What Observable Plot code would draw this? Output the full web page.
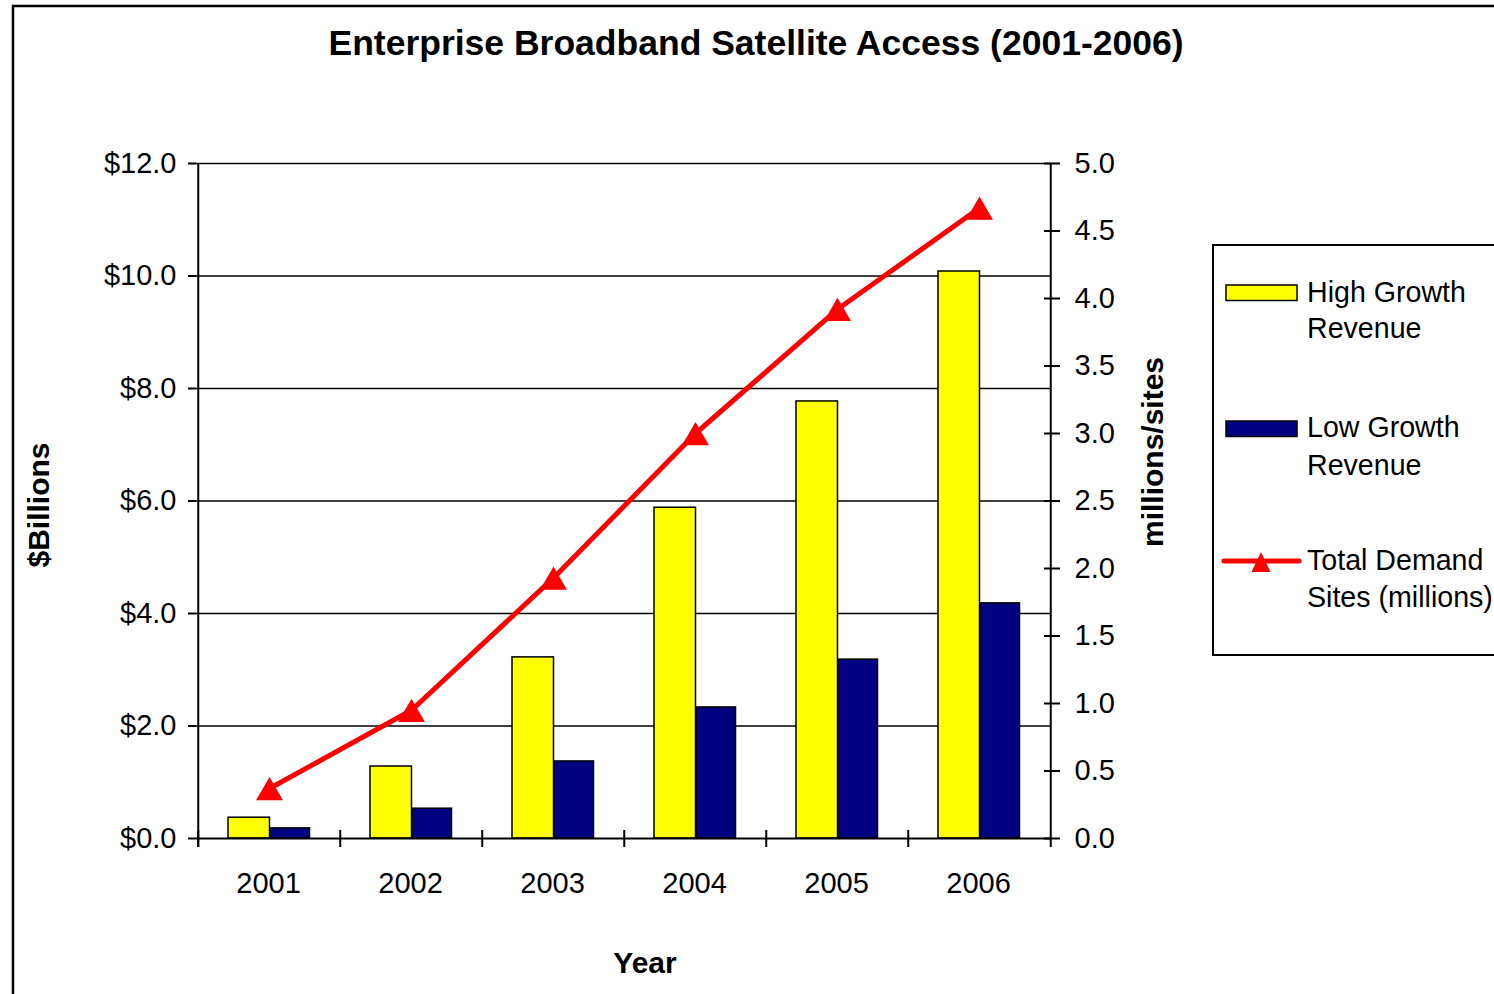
<!DOCTYPE html>
<html><head><meta charset="utf-8">
<script src="https://cdn.jsdelivr.net/npm/d3@7"></script>
<script src="https://cdn.jsdelivr.net/npm/@observablehq/plot@0.6"></script>
<style>
html,body{margin:0;padding:0;background:#fff;}
body{width:1494px;height:994px;overflow:hidden;position:relative;font-family:"Liberation Sans",Arial,sans-serif;}
#chart{position:absolute;left:0;top:0;}
#overlay{position:absolute;left:0;top:0;pointer-events:none;}
</style>
</head><body>
<div id="chart"></div>
<svg id="overlay" width="1494" height="994" font-family="'Liberation Sans', Arial, sans-serif">
  <rect x="13" y="6" width="1600" height="1100" fill="none" stroke="#000" stroke-width="2.5"/>
  <text x="756" y="55" text-anchor="middle" font-weight="bold" font-size="35.5">Enterprise Broadband Satellite Access (2001-2006)</text>
  <text transform="translate(38,505) rotate(-90)" dy="0.36em" text-anchor="middle" font-weight="bold" font-size="30">$Billions</text>
  <text transform="translate(1152,452) rotate(-90)" dy="0.36em" text-anchor="middle" font-weight="bold" font-size="30">millions/sites</text>
  <text x="645" y="973" text-anchor="middle" font-weight="bold" font-size="30">Year</text>
  <g id="legend"></g>
</svg>
<script>
const years = ["2001", "2002", "2003", "2004", "2005", "2006"];
const highGrowth = [0.37, 1.28, 3.22, 5.88, 7.77, 10.08];
const lowGrowth = [0.18, 0.53, 1.37, 2.33, 3.18, 4.18];
const demandSites = [0.37, 0.95, 1.93, 3.0, 3.92, 4.67];
const leftTicks = [0, 2, 4, 6, 8, 10, 12];
const rightTicks = [0, 0.5, 1.0, 1.5, 2.0, 2.5, 3.0, 3.5, 4.0, 4.5, 5.0];
const seriesNames = ["High Growth|Revenue", "Low Growth|Revenue", "Total Demand|Sites (millions)"];

const ratio = 12 / 5;
const data = years.map((year, i) => ({year, high: highGrowth[i], low: lowGrowth[i], sites: demandSites[i]}));
const W = 1494, H = 994, mL = 196, mR = 443, mT = 163, mB = 156;
const bw = (W - mL - mR) / years.length;

const chart = Plot.plot({
  width: W, height: H,
  marginLeft: mL, marginRight: mR, marginTop: mT, marginBottom: mB,
  style: {fontFamily: '"Liberation Sans", Arial, sans-serif', fontSize: "29px", background: "transparent", color: "#000", overflow: "visible"},
  x: {type: "band", domain: years, padding: 0},
  y: {domain: [0, 12]},
  marks: [
    Plot.gridY(leftTicks.filter(d => d > 0), {stroke: "#000", strokeOpacity: 1, strokeWidth: 1.5}),
    Plot.barY(data, {x: "year", y: "high", fill: "#ffff00", stroke: "#000", strokeWidth: 1.5, insetLeft: 30, insetRight: bw - 72}),
    Plot.barY(data, {x: "year", y: "low", fill: "#000080", stroke: "#000", strokeWidth: 1.5, insetLeft: 72, insetRight: bw - 112}),
    Plot.ruleY([0], {stroke: "#000", strokeWidth: 2}),
    Plot.ruleX([years[0]], {dx: -bw / 2, stroke: "#000", strokeWidth: 2, insetBottom: -9}),
    Plot.ruleX([years[years.length - 1]], {dx: bw / 2, stroke: "#000", strokeWidth: 2, insetBottom: -9}),
    Plot.ruleX(years, {x: d => d, y1: 0, y2: 0, insetTop: -8, insetBottom: -9, dx: -bw / 2, stroke: "#000", strokeWidth: 2}),
    Plot.axisY({anchor: "left", ticks: leftTicks, tickSize: 8, tickPadding: 12, strokeWidth: 2, tickFormat: d => "$" + d.toFixed(1), label: null, fontSize: 29}),
    Plot.axisY({anchor: "right", ticks: rightTicks.map(v => v * ratio), tickSize: 16, dx: -8, tickPadding: 15, strokeWidth: 2, tickFormat: d => (d / ratio).toFixed(1), label: null, fontSize: 29}),
    Plot.axisX({tickSize: 0, tickPadding: 34, label: null, fontSize: 29, dx: -1}),
    Plot.line(data, {x: "year", y: d => d.sites * ratio, stroke: "#ff0000", strokeWidth: 5}),
    Plot.dot(data, {x: "year", y: d => d.sites * ratio, symbol: "triangle", r: 10, fill: "#ff0000", stroke: "none", dy: 4})
  ]
});
document.getElementById("chart").appendChild(chart);

// Legend
const ns = "http://www.w3.org/2000/svg";
const lg = document.getElementById("legend");
function el(tag, attrs, text) {
  const e = document.createElementNS(ns, tag);
  for (const k in attrs) e.setAttribute(k, attrs[k]);
  if (text != null) e.textContent = text;
  lg.appendChild(e);
  return e;
}
el("rect", {x: 1213, y: 245, width: 400, height: 410, fill: "#fff", stroke: "#000", "stroke-width": 2});
el("rect", {x: 1226, y: 285, width: 71, height: 15.5, fill: "#ffff00", stroke: "#000", "stroke-width": 1.5});
el("rect", {x: 1226, y: 421, width: 71, height: 15.5, fill: "#000080", stroke: "#000", "stroke-width": 1.5});
el("line", {x1: 1224, x2: 1299, y1: 561, y2: 561, stroke: "#ff0000", "stroke-width": 5, "stroke-linecap": "round"});
el("path", {d: "M1261,552 L1270.5,572 L1251.5,572 Z", fill: "#ff0000"});
const baselines = [[302, 338], [437, 475], [570, 607]];
seriesNames.forEach((name, i) => {
  const [a, b] = name.split("|");
  el("text", {x: 1307, y: baselines[i][0], "font-size": 28.6}, a);
  el("text", {x: 1307, y: baselines[i][1], "font-size": 28.6}, b);
});
</script>
</body></html>
